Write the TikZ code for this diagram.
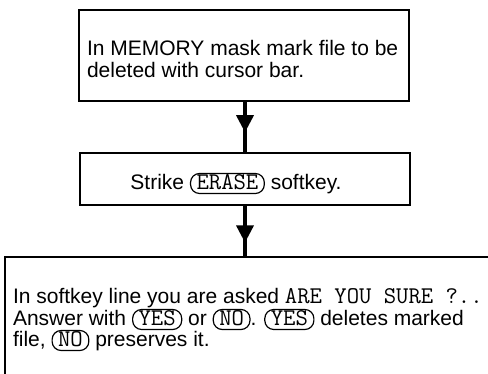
\documentclass[tikz,border=0pt]{standalone}
\usepackage{fontspec}
\setmainfont{Liberation Sans}
\newcommand\keyfont{\ttfamily\fontsize{24}{22}\selectfont}
\usetikzlibrary{decorations.markings}
\tikzset{
  box/.style={draw, line width=1.4pt, inner sep=0pt, outer sep=0pt},
  txt/.style={inner sep=0pt, outer sep=0pt, font=\fontsize{21}{22}\selectfont},
  keycap/.style={draw, line width=1.2pt, rounded corners=9pt, inner xsep=6pt, inner ysep=3.5pt,
    text height=13pt, text depth=0pt, font=\keyfont},
  flow/.style={line width=3.5pt, postaction={decorate}},
  headpos/.style={decoration={markings, mark=at position #1 with {\fill (-17pt,9pt) -- (0pt,0pt) -- (-17pt,-9pt) -- cycle;}}}
}
\newcommand\keycap[1]{\tikz[baseline=(kc.base)]\node[keycap](kc){#1};}
\begin{document}
\begin{tikzpicture}[x=1pt,y=-1pt]
\useasboundingbox (0,0) rectangle (488,374);
\clip (0,0) rectangle (488,374);
\fill[white] (0,0) rectangle (488,374);

\node[box, minimum width=330pt, minimum height=91pt] (b1) at (244,55.5) {};
\node[box, minimum width=330pt, minimum height=52pt] (b2) at (245,179) {};
\node[box, minimum width=520pt, minimum height=150pt] (b3) at (265,332) {};

\node[txt, anchor=base west] (l1a) at (87,56) {In MEMORY mask mark file to be};
\node[txt, anchor=base west] (l1b) at (87,78) {deleted with cursor bar.};

\node[txt, anchor=base] (l2) at (236,190) {Strike \keycap{ERASE} softkey.};

\node[txt, anchor=base west] (l3a) at (13,304) {In softkey line you are asked {\keyfont ARE YOU SURE ?..}};
\node[txt, anchor=base west] (l3b) at (13,326) {Answer with \keycap{YES} or \keycap{NO}. \keycap{YES} deletes marked};
\node[txt, anchor=base west] (l3c) at (13,347) {file, \keycap{NO} preserves it.};

\draw[flow, headpos=0.6] (b1.south -| b2.north) -- (b2.north);
\draw[flow, headpos=0.72] (b2.south) -- (b2.south |- b3.north);
\end{tikzpicture}
\end{document}
